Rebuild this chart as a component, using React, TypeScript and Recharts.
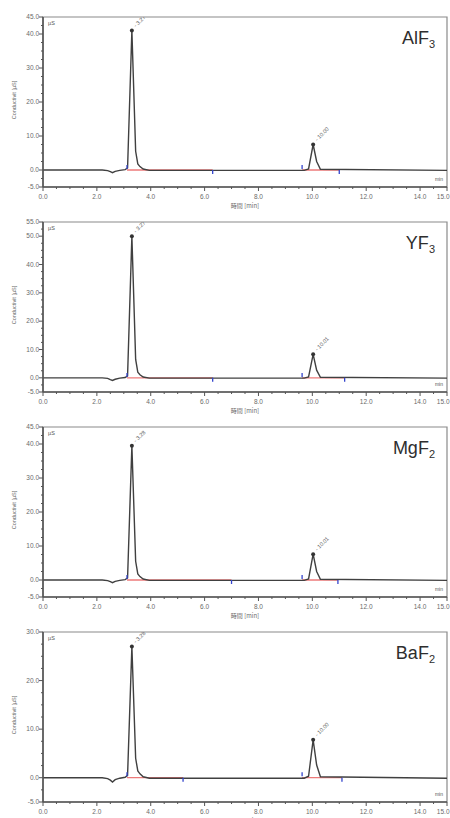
import React from "react";
import { ComposedChart, Line, Scatter, XAxis, YAxis, ReferenceArea } from "recharts";

// retention time axis [min], shared by all four traces
const TIME = [0, 2.2, 2.4, 2.5, 2.58, 2.68, 2.85, 3.05, 3.14, 3.3, 3.44, 3.52, 3.6, 3.72, 3.95, 9.7, 9.86, 10.03, 10.16, 10.3, 15];

// conductivity [µS] per sample
const ALF3 = [0, 0, -0.2, -0.5, -0.8, -0.4, -0.1, 0.1, 0.6, 41, 5.5, 1.8, 1.0, 0.3, -0.1, -0.1, 0.3, 7.5, 2.5, 0.2, -0.1];
const YF3 = [0, 0, -0.2, -0.6, -0.9, -0.5, -0.1, 0.1, 0.7, 50, 6.5, 2.0, 1.1, 0.3, -0.1, -0.1, 0.3, 8.3, 2.7, 0.2, -0.1];
const MGF2 = [0, 0, -0.2, -0.5, -0.8, -0.4, -0.1, 0.1, 0.6, 39.5, 5.5, 1.8, 1.0, 0.3, -0.1, -0.1, 0.3, 7.6, 2.5, 0.2, -0.1];
const BAF2 = [0, 0, -0.2, -0.5, -0.9, -0.4, -0.1, 0.1, 0.5, 27, 4.0, 1.4, 0.8, 0.2, -0.1, -0.1, 0.3, 7.8, 2.6, 0.2, -0.1];

const NAMES = ["AlF", "YF", "MgF", "BaF"];
const SUBS = ["3", "3", "2", "2"];
const Y_MAX = [45, 55, 45, 30];
const Y_LABELS = [
  [-5, 0, 10, 20, 30, 40, 45],
  [-5, 0, 10, 20, 30, 40, 50, 55],
  [-5, 0, 10, 20, 30, 40, 45],
  [-5, 0, 10, 20, 30],
];
const SIGNALS = [ALF3, YF3, MGF2, BAF2];

// peak marks: apex time, printed retention time
const PEAK_T = [3.3, 10.03];
const PEAK_LABELS = [
  ["3.27", "10.00"],
  ["3.27", "10.01"],
  ["3.28", "10.01"],
  ["3.28", "10.00"],
];

// integration baselines
const BASE_START = [3.12, 9.62];
const BASE_END = [
  [6.3, 11.0],
  [6.3, 11.2],
  [7.0, 10.95],
  [5.2, 11.1],
];

const X_LABELS = [0, 2, 4, 6, 8, 10, 12, 14, 15];

const FONT = "'Liberation Sans', Arial, sans-serif";
const TICK_COLOR = "#6a6a6a";

const steps = (a: number, b: number, s: number) => {
  const out: number[] = [];
  for (let v = a; v <= b + 1e-9; v += s) out.push(Math.round(v * 100) / 100);
  return out;
};

const X_TICKS = steps(0, 15, 0.5);

function XTick({ x, y, payload }: any) {
  const major = X_LABELS.includes(payload.value);
  const last = payload.value === 15;
  return (
    <g>
      <line x1={x} x2={x} y1={y} y2={y + (major ? 4 : 2)} stroke="#555" strokeWidth={1} />
      {major && (
        <text
          x={last ? x + 2.5 : x}
          y={y + 12}
          textAnchor={last ? "end" : "middle"}
          fontSize={6.5}
          fill={TICK_COLOR}
          fontFamily={FONT}
        >
          {payload.value.toFixed(1)}
        </text>
      )}
    </g>
  );
}

function makeYTick(labels: number[]) {
  return ({ x, y, payload }: any) => {
    const major = labels.includes(payload.value);
    return (
      <g>
        <line x1={x} x2={x - (major ? 4 : 2)} y1={y} y2={y} stroke="#555" strokeWidth={1} />
        {major && (
          <text x={x - 4} y={y + 2.3} textAnchor="end" fontSize={6.5} fill={TICK_COLOR} fontFamily={FONT}>
            {payload.value.toFixed(1)}
          </text>
        )}
      </g>
    );
  };
}

function PeakMark({ cx, cy, payload }: any) {
  const tx = cx + 4;
  const ty = cy - 3;
  return (
    <g>
      <circle cx={cx} cy={cy} r={2} fill="#333" />
      <text x={tx} y={ty} transform={`rotate(-45 ${tx} ${ty})`} fontSize={5.5} fill="#555" fontFamily={FONT}>
        {"- " + payload.label}
      </text>
    </g>
  );
}

function BoundMark({ cx, cy, payload }: any) {
  return <line x1={cx} x2={cx} y1={cy} y2={cy + payload.dir * 4} stroke="#3344cc" strokeWidth={1.3} />;
}

function Chromatogram({ idx }: { idx: number }) {
  const yMax = Y_MAX[idx];
  const data = TIME.map((t, i) => ({ t, v: SIGNALS[idx][i] }));
  const peaks = PEAK_T.map((t, i) => ({
    t,
    v: SIGNALS[idx][TIME.indexOf(t)],
    label: PEAK_LABELS[idx][i],
  }));
  const base1 = [
    { t: BASE_START[0], v: 0 },
    { t: BASE_END[idx][0], v: 0 },
  ];
  const base2 = [
    { t: BASE_START[1], v: 0 },
    { t: BASE_END[idx][1], v: 0 },
  ];
  const bounds = [
    { t: BASE_START[0], v: 0.3, dir: -1 },
    { t: BASE_END[idx][0], v: 0, dir: 1 },
    { t: BASE_START[1], v: 0.3, dir: -1 },
    { t: BASE_END[idx][1], v: 0, dir: 1 },
  ];

  return (
    <ComposedChart width={450} height={240} margin={{ top: 17, right: 3, bottom: 13, left: 0 }}>
      <XAxis
        dataKey="t"
        type="number"
        domain={[0, 15]}
        ticks={X_TICKS}
        interval={0}
        tickSize={0}
        tickMargin={0}
        tickLine={false}
        tick={(p: any) => <XTick {...p} />}
        axisLine={{ stroke: "#555", strokeWidth: 1.6 }}
        height={40}
        allowDataOverflow
        label={(p: any) => {
          const vb = p.viewBox;
          return (
            <text x={vb.x + vb.width / 2} y={vb.y + 21} textAnchor="middle" fontSize={6} fill={TICK_COLOR} fontFamily="'Noto Sans CJK JP', sans-serif">
              時間 [min]
            </text>
          );
        }}
      />
      <YAxis
        type="number"
        domain={[-5, yMax]}
        ticks={steps(-5, yMax, 2.5)}
        interval={0}
        tickSize={0}
        tickMargin={0}
        tickLine={false}
        tick={makeYTick(Y_LABELS[idx])}
        axisLine={{ stroke: "#555", strokeWidth: 1.6 }}
        width={43}
        allowDataOverflow
        label={(p: any) => {
          const vb = p.viewBox;
          const cx = 16;
          const cy = vb.y + vb.height / 2 - 2;
          return (
            <text x={cx} y={cy} transform={`rotate(-90 ${cx} ${cy})`} textAnchor="middle" fontSize={5.5} fill={TICK_COLOR} fontFamily={FONT}>
              Conductivit [µS]
            </text>
          );
        }}
      />
      <ReferenceArea
        x1={0}
        x2={15}
        y1={-5}
        y2={yMax}
        fill="none"
        stroke="#8a8a8a"
        strokeWidth={1.2}
        label={(p: any) => {
          const vb = p.viewBox;
          return (
            <g fontFamily={FONT}>
              <text x={vb.x + vb.width - 12} y={vb.y + 27} textAnchor="end" fontSize={18} fill="#2e2e2e">
                {NAMES[idx]}
                <tspan fontSize={11} dy={4}>
                  {SUBS[idx]}
                </tspan>
              </text>
              <text x={vb.x + 5} y={vb.y + 8} fontSize={5.5} fill="#555">
                µS
              </text>
              <text x={vb.x + vb.width - 4} y={vb.y + vb.height - 6} textAnchor="end" fontSize={5} fill="#555">
                min
              </text>
            </g>
          );
        }}
      />
      <Line data={base1} dataKey="v" stroke="#ec7a7a" strokeWidth={1.3} dot={false} isAnimationActive={false} />
      <Line data={base2} dataKey="v" stroke="#ec7a7a" strokeWidth={1.3} dot={false} isAnimationActive={false} />
      <Line data={data} dataKey="v" stroke="#404040" strokeWidth={1.4} dot={false} isAnimationActive={false} />
      <Scatter data={bounds} dataKey="v" isAnimationActive={false} shape={(p: any) => <BoundMark {...p} />} />
      <Scatter data={peaks} dataKey="v" isAnimationActive={false} shape={(p: any) => <PeakMark {...p} />} />
    </ComposedChart>
  );
}

export default function App() {
  return (
    <div style={{ position: "absolute", left: 0, top: 0, width: 450, height: 818, overflow: "hidden", background: "#fff" }}>
      {NAMES.map((n, i) => (
        <div key={n} style={{ position: "absolute", left: 0, top: 205 * i }}>
          <Chromatogram idx={i} />
        </div>
      ))}
    </div>
  );
}
